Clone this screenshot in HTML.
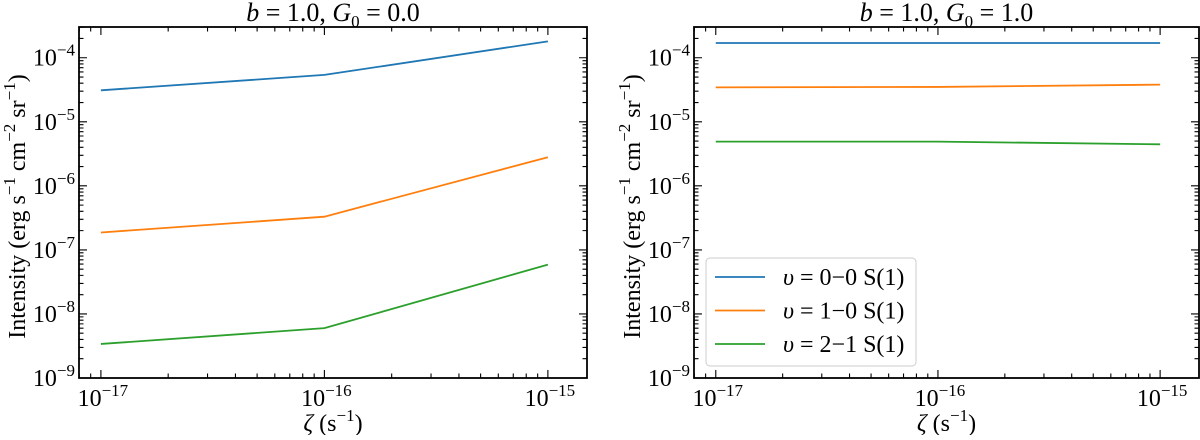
<!DOCTYPE html>
<html><head><meta charset="utf-8"><style>
body{margin:0;background:#fff;width:1200px;height:435px;overflow:hidden}
svg text{font-family:"Liberation Serif",serif;fill:#000}
</style></head><body>
<svg id="c" width="1200" height="435" xmlns="http://www.w3.org/2000/svg"></svg>
<script>
const xCats=[-17,-16,-15];
const leftBlue=[3.1e-5,5.4e-5,1.8e-4];
const leftOrange=[1.87e-7,3.3e-7,2.8e-6];
const leftGreen=[3.4e-9,6.0e-9,5.9e-8];
const rightBlue=[1.7e-4,1.7e-4,1.7e-4];
const rightOrange=[3.45e-5,3.5e-5,3.8e-5];
const rightGreen=[4.9e-6,4.9e-6,4.45e-6];
const yTicks=[-9,-8,-7,-6,-5,-4];
const seriesNames=["υ = 0−0 S(1)","υ = 1−0 S(1)","υ = 2−1 S(1)"];
const colors=["#1f77b4","#ff7f0e","#2ca02c"];
const NS="http://www.w3.org/2000/svg";
const svg=document.getElementById('c');
function mk(t,a,p){const e=document.createElementNS(NS,t);for(const k in a)e.setAttribute(k,a[k]);(p||svg).appendChild(e);return e;}
function panel(x0,x1,title,data,legend,name){
 const y0=27,y1=378;
 const g=mk('g',{});
 
 
 const xmin=-17.098,xmax=-14.825,ymin=-9,ymax=-3.52;
 const X=v=>x0+(Math.log10(v)-xmin)/(xmax-xmin)*(x1-x0);
 const XL=l=>x0+(l-xmin)/(xmax-xmin)*(x1-x0);
 const Y=v=>y1-(Math.log10(v)-ymin)/(ymax-ymin)*(y1-y0);
 const YL=l=>y1-(l-ymin)/(ymax-ymin)*(y1-y0);
 data.forEach((s,i)=>{
  const pts=s.map((v,j)=>X(Math.pow(10,xCats[j]))+','+Y(v)).join(' ');
  const p=mk('polyline',{points:pts,fill:'none',stroke:colors[i],'stroke-width':1.8},g);
  
  
 });
 let d='';
 for(let dec=-18;dec<=-15;dec++)for(let m=1;m<10;m++){
  const l=dec+Math.log10(m);if(l<xmin||l>xmax)continue;
  const x=XL(l),len=m==1?8:4.5;
  d+=`M${x},${y1}v${-len}M${x},${y0}v${len}`;
 }
 for(let dec=-10;dec<=-4;dec++)for(let m=1;m<10;m++){
  const l=dec+Math.log10(m);if(l<ymin||l>ymax)continue;
  const y=YL(l),len=m==1?8:4.5;
  d+=`M${x0},${y}h${len}M${x1},${y}h${-len}`;
 }
 mk('path',{d:d,stroke:'#000','stroke-width':1.1,fill:'none'},g);
 const fr=mk('rect',{x:x0,y:y0,width:x1-x0,height:y1-y0,fill:'none',stroke:'#000','stroke-width':1.8},g);
 
 
 xCats.forEach(l=>{
  const t=mk('text',{x:XL(l)+2,y:406,'font-size':24,'text-anchor':'middle'},g);
  t.innerHTML=`10<tspan dy="-10" font-size="17">−${-l}</tspan>`;
  
  
 });
 yTicks.forEach(l=>{
  const t=mk('text',{x:x0-4,y:YL(l)+8,'font-size':24,'text-anchor':'end'},g);
  t.innerHTML=`10<tspan dy="-10" font-size="17">−${-l}</tspan>`;
  
  
 });
 const tt=mk('text',{x:(x0+x1)/2,y:21,'font-size':26,'text-anchor':'middle'},g);
 tt.innerHTML=title;
 
 
 const xt=mk('text',{x:(x0+x1)/2,y:431,'font-size':24,'text-anchor':'middle'},g);
 xt.innerHTML='<tspan font-style="italic">ζ</tspan> (s<tspan dy="-10" font-size="17">−1</tspan><tspan dy="10">)</tspan>';
 
 
 const yt=mk('text',{x:0,y:0,'font-size':24,'text-anchor':'middle',transform:`translate(${x0-54},${(y0+y1)/2+4}) rotate(-90)`},g);
 yt.innerHTML='Intensity (erg s<tspan dy="-10" font-size="17">−1</tspan><tspan dy="10"> cm</tspan><tspan dy="-10" font-size="17">−2</tspan><tspan dy="10"> sr</tspan><tspan dy="-10" font-size="17">−1</tspan><tspan dy="10">)</tspan>';
 
 
 if(legend){
  const lg=mk('g',{},g);
  
  
  mk('rect',{x:706,y:258,width:210,height:108,rx:4,fill:'#fff','fill-opacity':0.85,stroke:'#ccc'},lg);
  seriesNames.forEach((n,i)=>{
   const y=277+i*33.5;
   const e=mk('g',{},lg);
   
   
   mk('line',{x1:715,x2:765,y1:y,y2:y,stroke:colors[i],'stroke-width':1.8},e);
   const t=mk('text',{x:783,y:y+8,'font-size':24},e);
   t.innerHTML='<tspan font-style="italic">υ</tspan>'+n.slice(1);
  });
 }
}
panel(79,587,'<tspan font-style="italic">b</tspan> = 1.0, <tspan font-style="italic">G</tspan><tspan font-size="17" dy="6">0</tspan><tspan dy="-6"> = 0.0</tspan>',[leftBlue,leftOrange,leftGreen],false,'left-panel');
panel(694,1199,'<tspan font-style="italic">b</tspan> = 1.0, <tspan font-style="italic">G</tspan><tspan font-size="17" dy="6">0</tspan><tspan dy="-6"> = 1.0</tspan>',[rightBlue,rightOrange,rightGreen],true,'right-panel');
</script>
</body></html>
